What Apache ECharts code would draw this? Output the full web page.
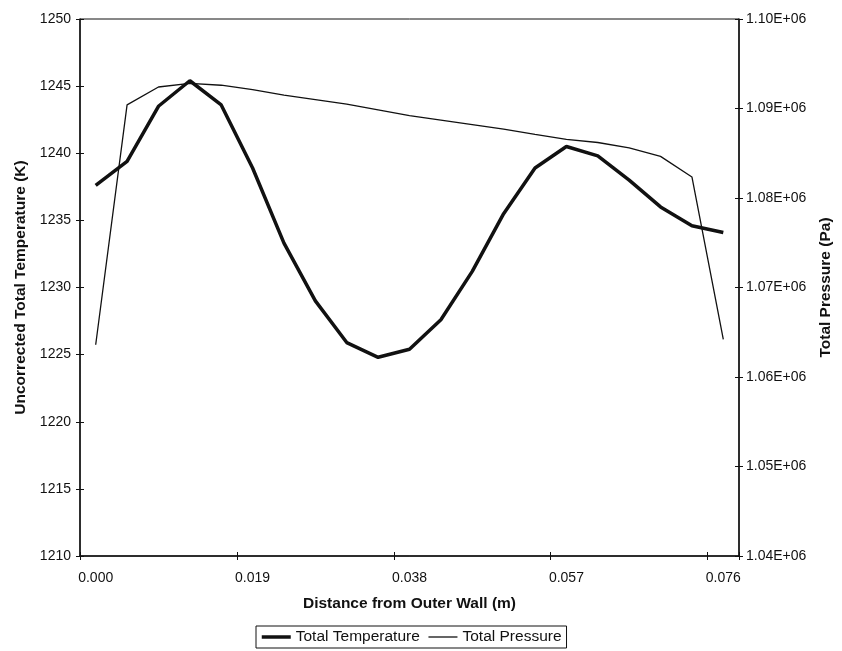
<!DOCTYPE html>
<html>
<head>
<meta charset="utf-8">
<script src="https://cdn.jsdelivr.net/npm/echarts@6/dist/echarts.min.js"></script>
<style>
  html, body { margin: 0; padding: 0; background: #fff; }
  #chart { width: 842px; height: 651px; }
</style>
</head>
<body>
<div id="chart"></div>
<script>
// Distance from outer wall (m) — category positions
const distances = [0.000, 0.0038, 0.0076, 0.0114, 0.0152, 0.019, 0.0228, 0.0266, 0.0304, 0.0342,
                   0.038, 0.0418, 0.0456, 0.0494, 0.0532, 0.057, 0.0608, 0.0646, 0.0684, 0.0722, 0.076];
// Uncorrected total temperature (K)
const totalTemperature = [1237.6, 1239.4, 1243.5, 1245.4, 1243.6, 1238.9, 1233.3, 1229.0, 1225.9, 1224.8,
                          1225.4, 1227.6, 1231.2, 1235.5, 1238.9, 1240.5, 1239.8, 1238.0, 1236.0, 1234.6, 1234.1];
// Total pressure (Pa)
const totalPressure = [1063600, 1090400, 1092400, 1092800, 1092600, 1092100, 1091500, 1091000, 1090500, 1089850,
                       1089200, 1088700, 1088200, 1087700, 1087100, 1086550, 1086200, 1085600, 1084650, 1082350, 1064200];
const seriesNames = ['Total Temperature', 'Total Pressure'];
const axisNames = { x: 'Distance from Outer Wall (m)', left: 'Uncorrected Total Temperature (K)', right: 'Total Pressure (Pa)' };

const FONT = 'Liberation Sans, Arial, sans-serif';
const INK = '#111';

function sci(v) {
  const s = Number(v).toExponential(2).toUpperCase(); // e.g. 1.10E+6
  return s.replace(/E([+-])(\d)$/, 'E$10$2');
}

const chart = echarts.init(document.getElementById('chart'), null, { renderer: 'canvas' });
chart.setOption({
  backgroundColor: '#fff',
  animation: false,
  grid: { left: 80, right: 97, top: 19, bottom: 95, show: true, borderColor: INK, borderWidth: 1, containLabel: false },
  legend: {
    data: [
      { name: seriesNames[0], lineStyle: { width: 3.5, color: INK } },
      { name: seriesNames[1], lineStyle: { width: 1.3, color: INK } }
    ],
    left: 256, top: 626,
    padding: [3, 5, 3, 4],
    itemGap: 8, itemWidth: 29, itemHeight: 12,
    borderColor: INK, borderWidth: 1,
    itemStyle: { opacity: 0 },
    textStyle: { fontFamily: FONT, fontSize: 15.5, color: INK }
  },
  xAxis: [
    {
      type: 'category', data: distances, position: 'bottom', boundaryGap: true,
      name: axisNames.x, nameLocation: 'middle', nameGap: 40,
      nameTextStyle: { fontFamily: FONT, fontSize: 15.5, fontWeight: 'bold', color: INK },
      axisLine: { show: true, lineStyle: { color: INK, width: 1.5 } },
      axisTick: { show: true, interval: 4, length: 4, inside: false, lineStyle: { color: INK, width: 1 } },
      axisLabel: { interval: 4, margin: 15, fontFamily: FONT, fontSize: 14, color: INK,
                   formatter: v => Number(v).toFixed(3) },
      splitLine: { show: false }
    },
    {
      type: 'category', data: distances, position: 'bottom', boundaryGap: true,
      axisLine: { show: false },
      axisTick: { show: true, interval: 4, length: 4, inside: true, lineStyle: { color: INK, width: 1 } },
      axisLabel: { show: false }, splitLine: { show: false }
    }
  ],
  yAxis: [
    {
      type: 'value', position: 'left', min: 1210, max: 1250, interval: 5,
      name: axisNames.left, nameLocation: 'middle', nameGap: 47,
      nameTextStyle: { fontFamily: FONT, fontSize: 15.5, fontWeight: 'bold', color: INK },
      axisLine: { show: true, lineStyle: { color: INK, width: 1.5 } },
      axisTick: { show: true, length: 4, lineStyle: { color: INK, width: 1 } },
      axisLabel: { margin: 9, fontFamily: FONT, fontSize: 14, color: INK, formatter: v => String(v) },
      splitLine: { show: false }
    },
    {
      type: 'value', position: 'right', min: 1040000, max: 1100000, interval: 10000,
      name: axisNames.right, nameLocation: 'middle', nameGap: 79,
      nameTextStyle: { fontFamily: FONT, fontSize: 15.5, fontWeight: 'bold', color: INK },
      axisLine: { show: true, lineStyle: { color: INK, width: 1.5 } },
      axisTick: { show: true, length: 4, lineStyle: { color: INK, width: 1 } },
      axisLabel: { margin: 7, fontFamily: FONT, fontSize: 14, color: INK, formatter: sci },
      splitLine: { show: false }
    },
    {
      type: 'value', position: 'left', min: 1210, max: 1250, interval: 5,
      axisLine: { show: false }, axisLabel: { show: false }, splitLine: { show: false },
      axisTick: { show: true, inside: true, length: 4, lineStyle: { color: INK, width: 1 } }
    },
    {
      type: 'value', position: 'right', min: 1040000, max: 1100000, interval: 10000,
      axisLine: { show: false }, axisLabel: { show: false }, splitLine: { show: false },
      axisTick: { show: true, inside: true, length: 4, lineStyle: { color: INK, width: 1 } }
    }
  ],
  series: [
    {
      name: seriesNames[0], type: 'line', xAxisIndex: 0, yAxisIndex: 0,
      data: totalTemperature, symbol: 'none', showSymbol: false, smooth: false,
      lineStyle: { color: INK, width: 3.5 }, itemStyle: { color: INK }, z: 3
    },
    {
      name: seriesNames[1], type: 'line', xAxisIndex: 0, yAxisIndex: 1,
      data: totalPressure, symbol: 'none', showSymbol: false, smooth: false,
      lineStyle: { color: INK, width: 1.3 }, itemStyle: { color: INK }, z: 2
    }
  ]
});
</script>
</body>
</html>
